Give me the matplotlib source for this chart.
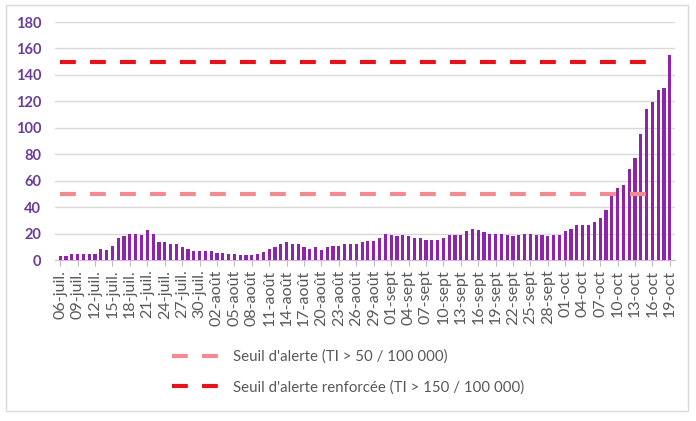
import datetime as dt
import matplotlib
matplotlib.use("Agg")
import matplotlib.pyplot as plt
from matplotlib.lines import Line2D
from matplotlib.patches import Rectangle

# ---- data ----
start = dt.date(2020, 7, 6)
n_days = 106
month_fr = {7: "juil.", 8: "août", 9: "sept", 10: "oct"}
dates = [start + dt.timedelta(days=i) for i in range(n_days)]
date_labels = [f"{d.day:02d}-{month_fr[d.month]}" for d in dates]

incidence = [
    3.3, 3.3, 4.3, 4.3, 4.3, 4.3, 4.3, 8.6, 7.6, 10.7,
    16.3, 17.8, 19.8, 19.8, 18.6, 22.4, 19.8, 13.5, 13.5, 12.2,
    12.2, 9.9, 8.6, 6.9, 6.9, 6.9, 6.9, 5.6, 5.6, 4.3,
    4.3, 3.6, 3.6, 3.6, 4.3, 6.0, 8.5, 9.7, 12.2, 13.5,
    12.2, 12.2, 10.2, 8.6, 9.9, 7.6, 9.7, 10.7, 10.7, 12.2,
    12.2, 12.2, 13.5, 14.5, 14.5, 16.5, 19.8, 18.8, 17.8, 18.8,
    17.8, 16.5, 16.5, 15.5, 15.5, 15.5, 16.5, 18.8, 18.8, 18.8,
    22.0, 23.2, 22.8, 20.9, 19.8, 19.8, 19.8, 19.0, 17.8, 19.0,
    19.8, 19.8, 19.0, 19.0, 17.8, 18.8, 18.8, 21.6, 23.4, 26.7,
    26.7, 26.7, 28.8, 31.8, 37.7, 48.9, 54.2, 56.7, 68.7, 76.8,
    95.4, 114.0, 119.6, 128.5, 129.8, 155.2,
]

threshold_alert = 50
threshold_reinforced = 150
threshold_len = 102  # threshold series extend to this many categories

legend_labels = ["Seuil d'alerte (TI > 50 / 100 000)",
                 "Seuil d'alerte renforcée (TI > 150 / 100 000)"]

y_ticks = list(range(0, 181, 20))

# ---- style ----
plt.rcParams["font.family"] = ["Lato", "DejaVu Sans"]
bar_color = "#8E24AA"
alert_color = "#F28B8F"
reinforced_color = "#E3121B"
text_grey = "#595959"
ytick_color = "#6A3D9A"

fig = plt.figure(figsize=(6.96, 4.21), dpi=100)
fig.patch.set_facecolor("white")
fig.patches.append(Rectangle((6 / 696, 1 - 411 / 421), (688 - 6) / 696, (411 - 5) / 421,
                             transform=fig.transFigure, fill=False,
                             edgecolor="#D9D9D9", linewidth=1.0))

ax = fig.add_axes([55 / 696, 1 - 260 / 421, (675 - 55) / 696, (260 - 22) / 421])

x = list(range(n_days))
ax.bar(x, incidence, width=0.55, color=bar_color, zorder=3)

lw = 3.0
dash = (3.8, 3.4)
ax.plot(range(threshold_len), [threshold_alert] * threshold_len, color=alert_color,
        linewidth=lw, linestyle=(0, dash), solid_capstyle="butt", zorder=4)
ax.plot(range(threshold_len), [threshold_reinforced] * threshold_len, color=reinforced_color,
        linewidth=lw, linestyle=(0, dash), solid_capstyle="butt", zorder=4)

ax.set_ylim(0, 180)
ax.set_xlim(-0.9, n_days - 0.1)
ax.set_yticks(y_ticks)
ax.set_yticklabels([str(v) for v in y_ticks], color=ytick_color, fontsize=10.5,
                   fontweight="bold")
ax.tick_params(axis="y", length=0, pad=10)
ax.grid(axis="y", color="#D9D9D9", linewidth=1.0, zorder=0)

tick_idx = list(range(0, n_days, 3))
ax.set_xticks(tick_idx)
ax.set_xticklabels([date_labels[i] for i in tick_idx], rotation=90, fontsize=11.5,
                   color=text_grey)
ax.tick_params(axis="x", length=4, color="#BFBFBF", pad=3)

for s in ["top", "right", "left"]:
    ax.spines[s].set_visible(False)
ax.spines["bottom"].set_color("#D9B3E6")
ax.spines["bottom"].set_linestyle((0, (1, 1)))
ax.set_facecolor("white")

handles = [
    Line2D([0], [0], color=alert_color, linewidth=lw, linestyle=(0, dash)),
    Line2D([0], [0], color=reinforced_color, linewidth=lw, linestyle=(0, dash)),
]
leg = fig.legend(handles, legend_labels, loc="upper left",
                 bbox_to_anchor=(158 / 696, 1 - 336 / 421), frameon=False,
                 fontsize=10.8, handlelength=3.4, labelspacing=1.1, handletextpad=0.7)
for t in leg.get_texts():
    t.set_color(text_grey)

fig.savefig("out.png", dpi=100, facecolor="white")
